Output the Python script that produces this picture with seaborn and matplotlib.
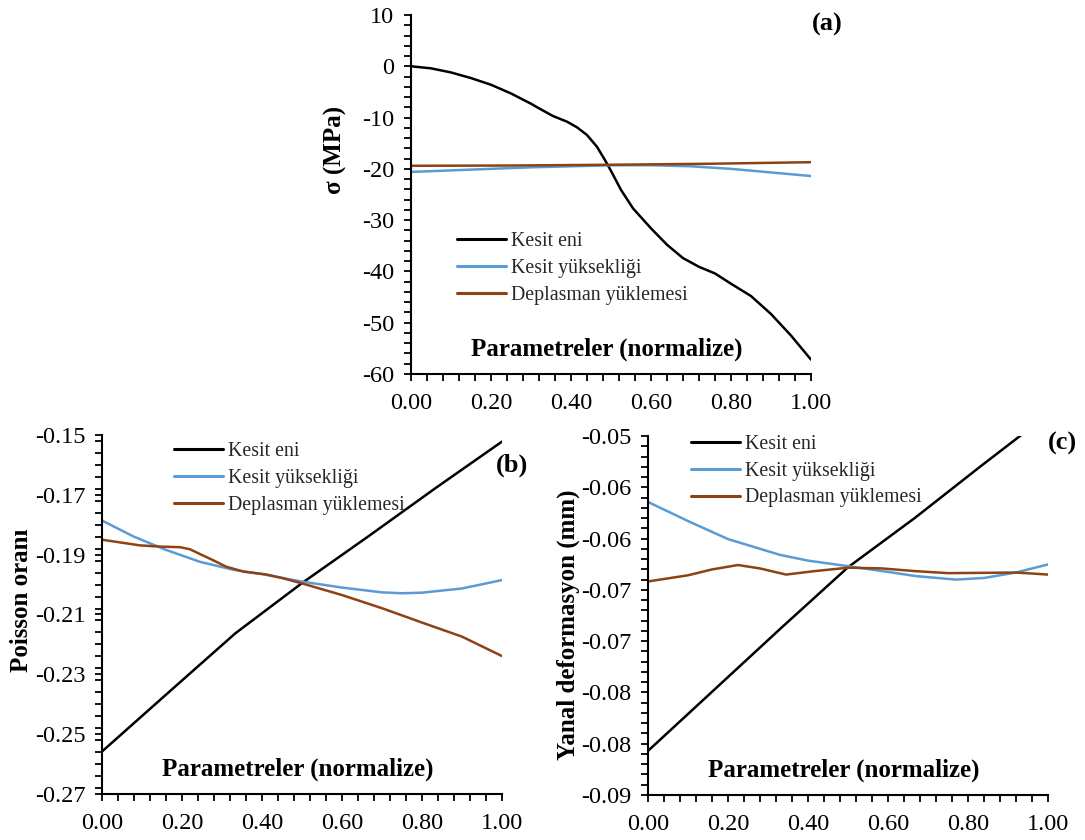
import numpy as np
import pandas as pd
import matplotlib
matplotlib.use("Agg")
import matplotlib.pyplot as plt
import seaborn as sns
from matplotlib.ticker import MultipleLocator

# ---------------- data ----------------
series_names = ["Kesit eni", "Kesit yüksekliği", "Deplasman yüklemesi"]
colors = ["#000000", "#5B9BD5", "#8E4214"]

# Panel (a): sigma (MPa)
a_black_x = [0, 0.05, 0.1, 0.15, 0.2, 0.25, 0.3, 0.32, 0.355, 0.39, 0.415, 0.44, 0.465, 0.485, 0.5,
             0.525, 0.555, 0.6, 0.64, 0.68, 0.72, 0.76, 0.8, 0.85, 0.9, 0.95, 1.0]
a_black_y = [0, -0.4, -1.2, -2.3, -3.6, -5.3, -7.3, -8.2, -9.7, -10.8, -11.9, -13.4, -15.7, -18.3, -20.4,
             -24.1, -27.7, -31.6, -34.8, -37.4, -39.1, -40.4, -42.4, -44.8, -48.3, -52.5, -57.2]
a_blue_x = [0, 0.1, 0.2, 0.3, 0.4, 0.5, 0.6, 0.7, 0.8, 0.9, 1.0]
a_blue_y = [-20.6, -20.3, -20.0, -19.7, -19.5, -19.3, -19.3, -19.5, -20.0, -20.7, -21.4]
a_brown_x = [0, 0.25, 0.5, 0.75, 1.0]
a_brown_y = [-19.4, -19.35, -19.2, -19.0, -18.7]

# Panel (b): Poisson orani
b_black_x = [0, 0.1667, 0.3333, 0.5, 0.6667, 0.8333, 1.0]
b_black_y = [-0.2558, -0.2360, -0.2163, -0.1995, -0.1838, -0.1678, -0.1522]
b_blue_x = [0, 0.08, 0.16, 0.245, 0.33, 0.4, 0.5, 0.6, 0.7, 0.75, 0.8, 0.9, 1.0]
b_blue_y = [-0.1786, -0.1840, -0.1884, -0.1924, -0.1951, -0.1965, -0.1990, -0.2010, -0.2026, -0.2029, -0.2027, -0.2013, -0.1985]
b_brown_x = [0, 0.045, 0.095, 0.145, 0.195, 0.22, 0.245, 0.28, 0.31, 0.355, 0.41, 0.45, 0.5,
             0.6, 0.7, 0.8, 0.9, 1.0]
b_brown_y = [-0.1850, -0.1859, -0.1869, -0.1873, -0.1875, -0.1882, -0.1898, -0.1920, -0.1940, -0.1957, -0.1966, -0.1978, -0.1996,
             -0.2035, -0.2079, -0.2127, -0.2174, -0.2239]

# Panel (c): Yanal deformasyon (mm)
c_black_x = [0, 0.1667, 0.3333, 0.5, 0.6667, 0.8333, 1.0]
c_black_y = [-0.0857, -0.0797, -0.0737, -0.0678, -0.0630, -0.0579, -0.0529]
c_blue_x = [0, 0.1, 0.2, 0.33, 0.4, 0.5, 0.6, 0.67, 0.77, 0.84, 0.92, 1.0]
c_blue_y = [-0.06143, -0.06329, -0.06505, -0.06659, -0.06715, -0.06769, -0.06825, -0.06866, -0.06900, -0.06884, -0.06831, -0.06752]
c_brown_x = [0, 0.1, 0.16, 0.225, 0.28, 0.345, 0.415, 0.5, 0.585, 0.67, 0.75, 0.84, 0.92, 1.0]
c_brown_y = [-0.06918, -0.06858, -0.06801, -0.06758, -0.06791, -0.06851, -0.06818, -0.06784, -0.06791, -0.06818, -0.06837, -0.06834, -0.06831, -0.06851]

x_ticks = [0.0, 0.2, 0.4, 0.6, 0.8, 1.0]
x_tick_labels = ["0.00", "0.20", "0.40", "0.60", "0.80", "1.00"]
a_yticks = [-60, -50, -40, -30, -20, -10, 0, 10]
a_ytick_labels = ["-60", "-50", "-40", "-30", "-20", "-10", "0", "10"]
b_yticks = [-0.27, -0.25, -0.23, -0.21, -0.19, -0.17, -0.15]
b_ytick_labels = ["-0.27", "-0.25", "-0.23", "-0.21", "-0.19", "-0.17", "-0.15"]
c_yticks = [-0.09, -0.085, -0.08, -0.075, -0.07, -0.065, -0.06, -0.055]
c_ytick_labels = ["-0.09", "-0.08", "-0.08", "-0.07", "-0.07", "-0.06", "-0.06", "-0.05"]

x_label = "Parametreler (normalize)"
y_labels = ["σ (MPa)", "Poisson oranı", "Yanal deformasyon (mm)"]
panel_labels = ["(a)", "(b)", "(c)"]

# ---------------- style ----------------
sns.set_theme(style="white")
plt.rcParams["font.family"] = ["Liberation Serif", "DejaVu Serif"]
plt.rcParams["axes.unicode_minus"] = False
plt.rcParams["axes.linewidth"] = 1.5
plt.rcParams["axes.edgecolor"] = "black"

fig = plt.figure(figsize=(10.85, 8.4), dpi=100)
W, H = 1085, 840

def make_ax(left_px, top_px, right_px, bottom_px):
    return fig.add_axes([left_px / W, 1 - bottom_px / H, (right_px - left_px) / W, (bottom_px - top_px) / H])

ax_a = make_ax(411, 15, 811, 374)
ax_b = make_ax(102, 435, 502, 794)
ax_c = make_ax(648, 436, 1048, 795)

panels = [
    (ax_a, [(a_black_x, a_black_y), (a_blue_x, a_blue_y), (a_brown_x, a_brown_y)],
     (-60, 10), a_yticks, a_ytick_labels, 2,
     (0.115, 0.395), (-0.19, 0.624), (1.04, 0.975)),
    (ax_b, [(b_black_x, b_black_y), (b_blue_x, b_blue_y), (b_brown_x, b_brown_y)],
     (-0.27, -0.15), b_yticks, b_ytick_labels, 0.004,
     (0.18, 0.98), (-0.20, 0.54), (1.025, 0.916)),
    (ax_c, [(c_black_x, c_black_y), (c_blue_x, c_blue_y), (c_brown_x, c_brown_y)],
     (-0.09, -0.055), c_yticks, c_ytick_labels, 0.001,
     (0.1075, 1.004), (-0.20, 0.474), (1.035, 0.978)),
]

for i, (ax, data, ylim, yt, ytl, yminor, leg_pos, ylab_pos, plab_pos) in enumerate(panels):
    for (xs, ys), name, col in zip(data, series_names, colors):
        df = pd.DataFrame({"x": xs, "y": ys})
        sns.lineplot(data=df, x="x", y="y", ax=ax, color=col, linewidth=1.8, label=name)
    ax.set_xlim(0, 1)
    ax.set_ylim(*ylim)
    ax.set_xticks(x_ticks, x_tick_labels)
    ax.set_yticks(yt, ytl)
    ax.xaxis.set_minor_locator(MultipleLocator(0.04))
    ax.yaxis.set_minor_locator(MultipleLocator(yminor))
    ax.tick_params(axis="both", which="both", direction="out", length=5, width=1.3, color="black")
    ax.tick_params(axis="both", which="major", labelsize=17.5, pad=7, labelcolor="black")
    ax.tick_params(axis="x", which="major", pad=9)
    ax.tick_params(bottom=True, left=True, which="both")
    for s in ["top", "right"]:
        ax.spines[s].set_visible(False)
    ax.set_xlabel("")
    ax.set_ylabel("")
    ax.text(0.49, 0.07, x_label, transform=ax.transAxes, ha="center", va="center",
            fontsize=18, fontweight="bold", color="black")
    ax.text(ylab_pos[0], ylab_pos[1], y_labels[i], transform=ax.transAxes, rotation=90,
            ha="center", va="center", fontsize=18, fontweight="bold", color="black")
    ax.text(plab_pos[0], plab_pos[1], panel_labels[i], transform=ax.transAxes,
            ha="center", va="center", fontsize=19, fontweight="bold", color="black")
    leg = ax.legend(loc="upper left", bbox_to_anchor=leg_pos, frameon=False, fontsize=14.3,
                    handlelength=2.45, handletextpad=0.25, labelspacing=0.4,
                    borderpad=0, borderaxespad=0)
    for line in leg.get_lines():
        line.set_linewidth(2.2)

fig.savefig("out.png", dpi=100, facecolor="white")
